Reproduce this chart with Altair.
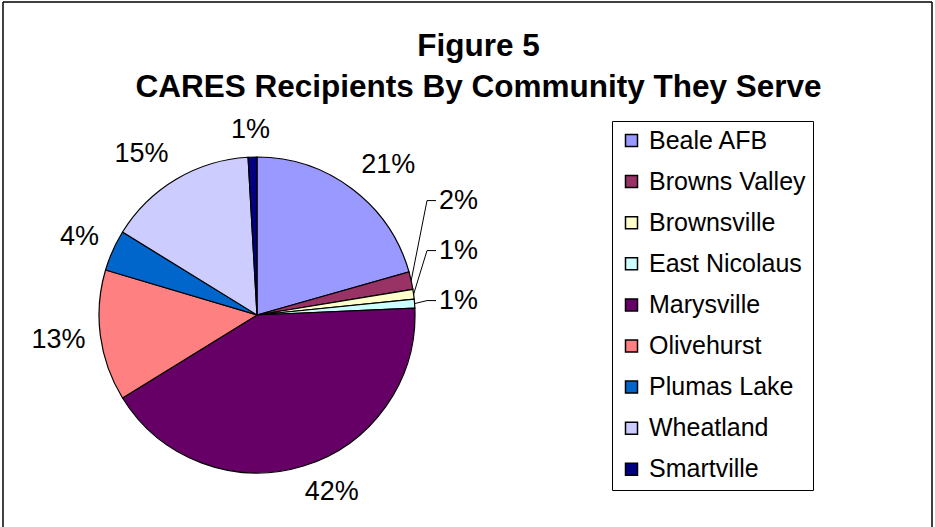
import math
import altair as alt
import pandas as pd

# ---- data ----
names = ["Beale AFB", "Browns Valley", "Brownsville", "East Nicolaus", "Marysville",
         "Olivehurst", "Plumas Lake", "Wheatland", "Smartville"]
values = [20.6, 1.8, 1.0, 0.9, 41.9, 13.4, 4.2, 15.3, 0.9]
colors = ["#9999FF", "#993366", "#FFFFCC", "#CCFFFF", "#660066",
          "#FF8080", "#0066CC", "#CCCCFF", "#000080"]
title_lines = ["Figure 5", "CARES Recipients By Community They Serve"]

# ---- layout (styling) ----
W, H = 935, 527
CX, CY, R = 257, 315, 158
FONT = "Liberation Sans"
LBL_FS = 27
GAP = 15
HH = 12


def clamp(v):
    return max(-1.0, min(1.0, v))


total = sum(values)
pie = pd.DataFrame({"name": names, "value": values, "idx": list(range(len(names)))})

# label positions derived from the slice mid-angles
center_rows, left_rows, line_rows = [], [], []
start = 0.0
mids = []
for i, v in enumerate(values):
    mid = (start + v / 2) / total * 2 * math.pi
    mids.append(mid)
    start += v

callouts = [i for i, v in enumerate(values)
            if v / total < 0.03 and math.sin(mids[i]) > 0.5]
callouts.sort(key=lambda i: -mids[i])

for i, v in enumerate(values):
    if i in callouts:
        continue
    txt = f"{round(v / total * 100)}%"
    s, c = math.sin(mids[i]), -math.cos(mids[i])
    hw = LBL_FS * (0.556 * (len(txt) - 1) + 0.889) / 2
    x = CX + (R + GAP) * s + hw * clamp(3 * s)
    y = CY + (R + GAP) * c + HH * clamp(1.5 * c)
    center_rows.append({"x": x, "y": y, "t": txt})

if callouts:
    base_i = callouts[0]
    y0 = CY - R * math.cos(mids[base_i]) - 3
    for k, i in enumerate(callouts):
        txt = f"{round(values[i] / total * 100)}%"
        ly = y0 - 50 * k
        lx = CX + R + 24
        ex, ey = CX + R * math.sin(mids[i]), CY - R * math.cos(mids[i])
        left_rows.append({"x": lx, "y": ly, "t": txt})
        for step, (px, py) in enumerate([(ex, ey), (lx - 12, ly), (lx - 3, ly)]):
            line_rows.append({"g": i, "s": step, "x": px, "y": py})

arcs = alt.Chart(pie).mark_arc(outerRadius=R, stroke="black", strokeWidth=1.2).encode(
    theta=alt.Theta("value:Q", stack=True),
    color=alt.Color(
        "name:N",
        scale=alt.Scale(domain=names, range=colors),
        sort=names,
        legend=alt.Legend(
            orient="none", legendX=612, legendY=121, title=None,
            symbolType="square", symbolSize=144, symbolStrokeColor="black",
            symbolStrokeWidth=1.5, symbolOpacity=1,
            labelFont=FONT, labelFontSize=25, labelColor="black", labelOffset=5,
            rowPadding=15.1, padding=7, strokeColor="black", fillColor="white",
            labelLimit=300,
        ),
    ),
    order=alt.Order("idx:Q"),
    x=alt.value(CX),
    y=alt.value(CY),
)

lbl_c = alt.Chart(pd.DataFrame(center_rows)).mark_text(
    font=FONT, fontSize=LBL_FS, color="black", align="center", baseline="middle"
).encode(x=alt.X("x:Q", scale=None), y=alt.Y("y:Q", scale=None), text="t:N")

lbl_l = alt.Chart(pd.DataFrame(left_rows)).mark_text(
    font=FONT, fontSize=LBL_FS, color="black", align="left", baseline="middle"
).encode(x=alt.X("x:Q", scale=None), y=alt.Y("y:Q", scale=None), text="t:N")

leaders = alt.Chart(pd.DataFrame(line_rows)).mark_line(color="black", strokeWidth=1).encode(
    x=alt.X("x:Q", scale=None), y=alt.Y("y:Q", scale=None),
    detail="g:N", order="s:Q",
)

frame = alt.Chart(pd.DataFrame({"k": [0]})).mark_rule(color="black", strokeWidth=1.5)
f_top = frame.encode(x=alt.value(3), x2=alt.value(932), y=alt.value(2))
f_left = frame.encode(x=alt.value(3), y=alt.value(2), y2=alt.value(H))
f_right = frame.encode(x=alt.value(932), y=alt.value(2), y2=alt.value(H))

chart = alt.layer(arcs, leaders, lbl_c, lbl_l, f_top, f_left, f_right).properties(
    width=W, height=H,
    padding=0,
    autosize=alt.AutoSizeParams(type="none"),
    background="white",
    title=alt.TitleParams(
        text=title_lines, font=FONT, fontSize=31.5, fontWeight="bold", color="black",
        anchor="middle", frame="group", baseline="bottom", offset=-135, lineHeight=41, dx=11,
    ),
).configure_view(stroke=None)

chart.save("out.html", embed_options={"renderer": "svg", "actions": False})
